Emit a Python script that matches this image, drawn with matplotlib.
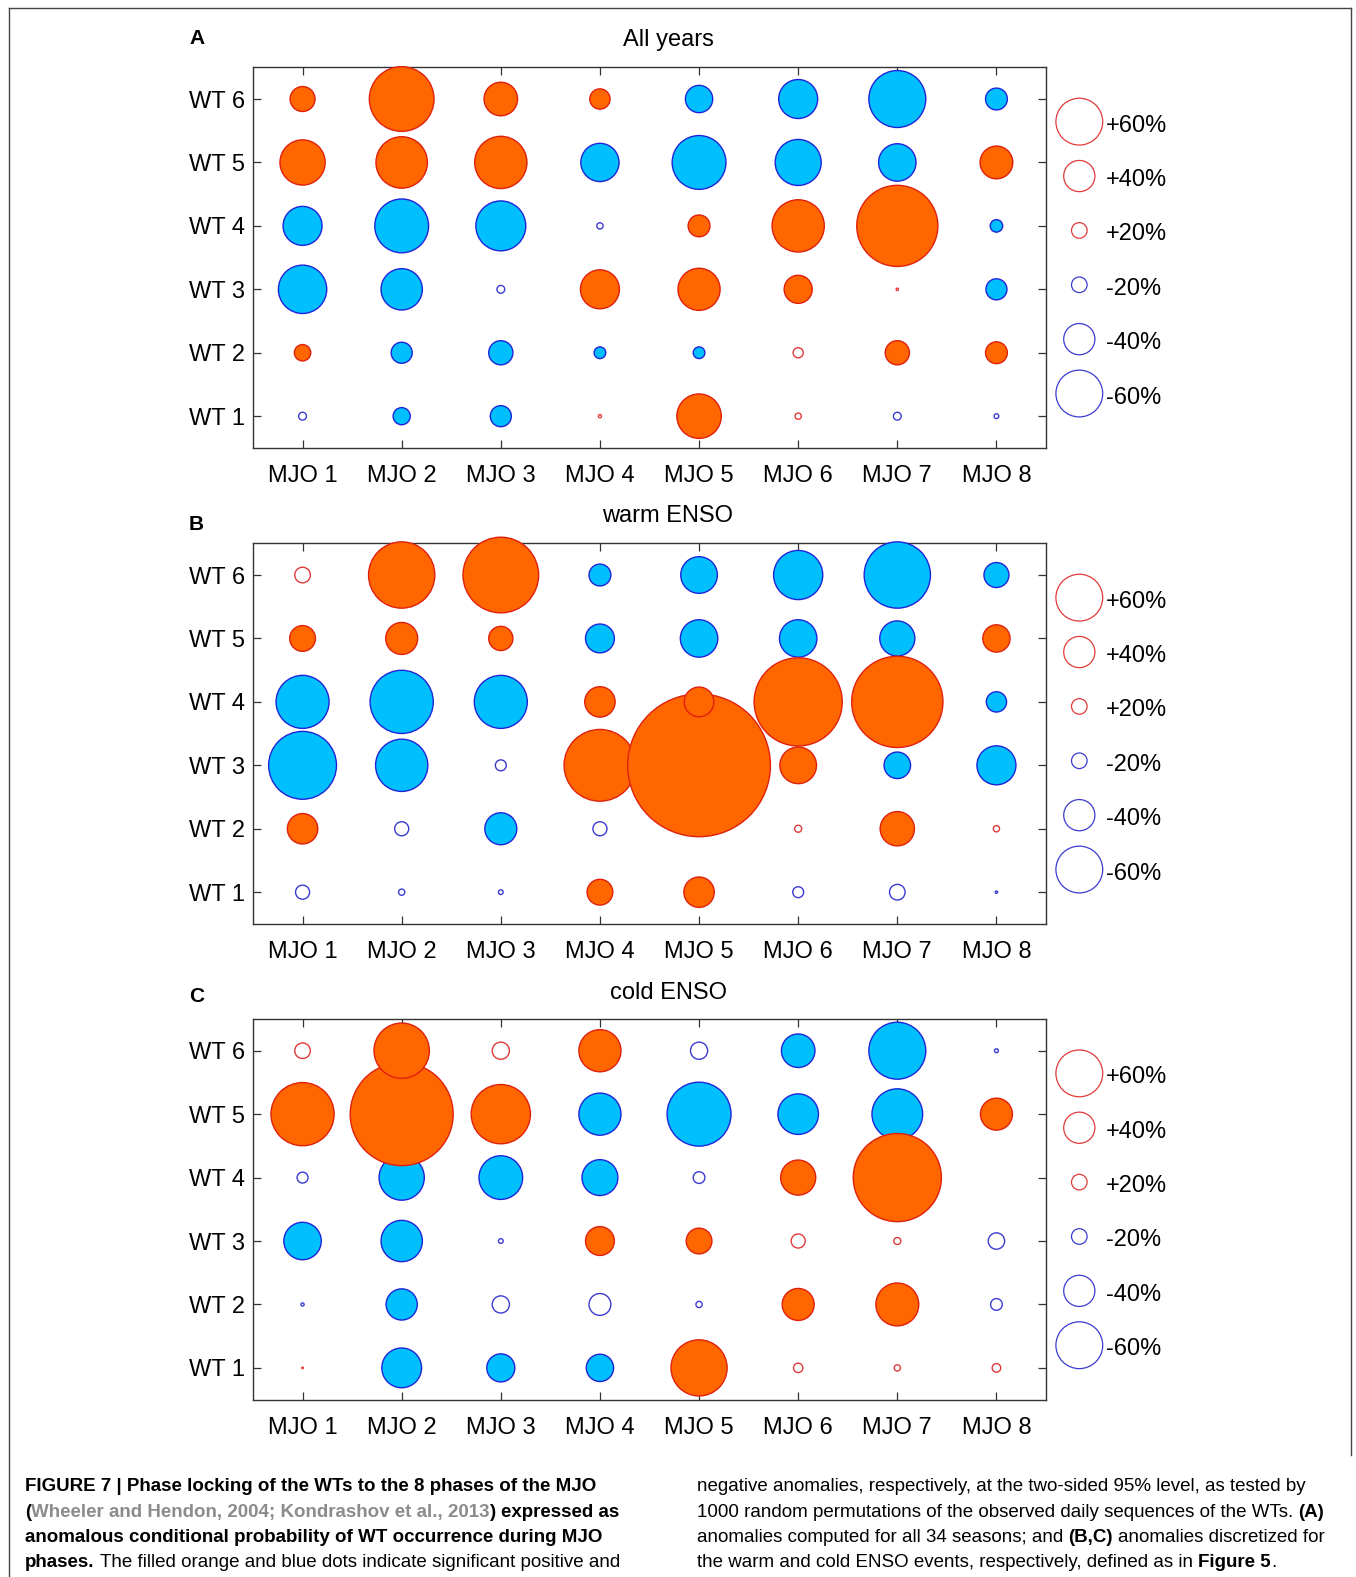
import matplotlib
matplotlib.use('Agg')
import matplotlib.pyplot as plt
from matplotlib import font_manager
from matplotlib.colors import to_rgba
from matplotlib.lines import Line2D

W, H = 1356, 1577

# ---------------- data ----------------
mjo_labels = ['MJO 1', 'MJO 2', 'MJO 3', 'MJO 4', 'MJO 5', 'MJO 6', 'MJO 7', 'MJO 8']
wt_labels = ['WT 1', 'WT 2', 'WT 3', 'WT 4', 'WT 5', 'WT 6']
legend_values = [60, 40, 20, -20, -40, -60]
panel_letters = ['A', 'B', 'C']
panel_titles = ['All years', 'warm ENSO', 'cold ENSO']

# anomalies in %, rows WT1..WT6, columns MJO1..MJO8
all_years = [
    [-10, -22, -27, 4, 57, 8, -10, -6],
    [21, -27, -31, -15, -15, 13, 31, 28],
    [-62, -53, -10, 50, 54, 36, 3, -27],
    [-50, -69, -64, -8, 28, 67, 104, -16],
    [58, 66, 67, -49, -69, -59, -48, 42],
    [32, 83, 43, 26, -35, -50, -73, -28],
]
all_years_sig = [
    [0, 1, 1, 0, 1, 0, 0, 0],
    [1, 1, 1, 1, 1, 0, 1, 1],
    [1, 1, 0, 1, 1, 1, 0, 1],
    [1, 1, 1, 0, 1, 1, 1, 1],
    [1, 1, 1, 1, 1, 1, 1, 1],
    [1, 1, 1, 1, 1, 1, 1, 1],
]
warm_enso = [
    [-18, -8, -6, 33, 39, -14, -20, -3],
    [39, -18, -41, -18, -15, 9, 44, 8],
    [-87, -67, -14, 92, 183, 47, -34, -50],
    [-68, -81, -68, 39, 38, 113, 117, -26],
    [33, 41, 31, -37, -48, -48, -45, 35],
    [20, 85, 97, -28, -47, -63, -85, -32],
]
warm_enso_sig = [
    [0, 0, 0, 1, 1, 0, 0, 0],
    [1, 0, 1, 0, 0, 0, 1, 0],
    [1, 1, 0, 1, 1, 1, 1, 1],
    [1, 1, 1, 1, 1, 1, 1, 1],
    [1, 1, 1, 1, 1, 1, 1, 1],
    [0, 1, 1, 1, 1, 1, 1, 1],
]
cold_enso = [
    [2, -51, -36, -35, 72, 12, 8, 11],
    [-4, -40, -22, -28, -8, 41, 55, -15],
    [-48, -53, -6, 37, 33, 18, 9, -21],
    [-14, -58, -56, -46, -15, 45, 113, 0],
    [81, 132, 76, -54, -82, -52, -65, 41],
    [20, 71, 22, 54, -22, -43, -73, -5],
]
cold_enso_sig = [
    [0, 1, 1, 1, 1, 0, 0, 0],
    [0, 1, 0, 0, 0, 1, 1, 0],
    [1, 1, 0, 1, 1, 0, 0, 0],
    [0, 1, 1, 1, 0, 1, 1, 0],
    [1, 1, 1, 1, 1, 1, 1, 1],
    [0, 1, 0, 1, 0, 1, 1, 0],
]
panels = [(all_years, all_years_sig), (warm_enso, warm_enso_sig), (cold_enso, cold_enso_sig)]

# ---------------- style ----------------
plt.rcParams['font.family'] = ['Liberation Sans', 'DejaVu Sans']
POS_FILL, POS_EDGE = '#FF6600', '#E0200E'
NEG_FILL, NEG_EDGE = '#00BFFF', '#1F24D8'
POS_LINE, NEG_LINE = '#E03A3A', '#3B3BD0'
PX_PER_PCT = 0.39  # radius in pixels per percent


def msize(v):
    d_pt = 2 * PX_PER_PCT * abs(v) * 0.72
    return d_pt ** 2


fig = plt.figure(figsize=(W / 100, H / 100), dpi=100)

ax_left, ax_right = 253, 1046
ax_tops = [67.3, 543.3, 1019.0]
ax_h = 380.6
title_y = [40, 516, 993]
letter_y = [39, 524, 997]

for p, ((vals, sig), letter, title, top) in enumerate(zip(panels, panel_letters, panel_titles, ax_tops)):
    ax = fig.add_axes([ax_left / W, 1 - (top + ax_h) / H, (ax_right - ax_left) / W, ax_h / H])
    pts = []
    for i in range(6):
        for j in range(8):
            v = vals[i][j]
            if v == 0:
                continue
            pts.append((v > 0, i, j, v, sig[i][j]))
    pts.sort(key=lambda t: (t[0], t[1]))
    xs, ys, ss, fcs, ecs = [], [], [], [], []
    for pos, i, j, v, s in pts:
        xs.append(j + 1)
        ys.append(i + 1)
        ss.append(msize(v))
        if s:
            fcs.append(to_rgba(POS_FILL if pos else NEG_FILL))
            ecs.append(to_rgba(POS_EDGE if pos else NEG_EDGE))
        else:
            fcs.append((1, 1, 1, 0))
            ecs.append(to_rgba(POS_LINE if pos else NEG_LINE))
    ax.scatter(xs, ys, s=ss, facecolors=fcs, edgecolors=ecs, linewidths=1.0,
               clip_on=False, zorder=3)
    ax.set_xlim(0.5, 8.5)
    ax.set_ylim(0.5, 6.5)
    ax.set_xticks(range(1, 9))
    ax.set_xticklabels(mjo_labels)
    ax.set_yticks(range(1, 7))
    ax.set_yticklabels(wt_labels)
    ax.tick_params(direction='in', length=5.8, width=0.9, top=True, right=True,
                   labelsize=17, color='#333333', labelcolor='black')
    ax.tick_params(axis='x', pad=12.5)
    ax.tick_params(axis='y', pad=5.8)
    for sp in ax.spines.values():
        sp.set_color('#333333')
        sp.set_linewidth(1.0)

    # legend
    for k, v in enumerate(legend_values):
        yf = (6 - k) / 7
        ax.scatter([1.042], [yf], s=msize(v), transform=ax.transAxes,
                   facecolors='none', edgecolors=POS_LINE if v > 0 else NEG_LINE,
                   linewidths=0.9, clip_on=False)
        ax.text(1.0757, yf - 4 / ax_h, f'{v:+d}%', transform=ax.transAxes,
                ha='left', va='center', fontsize=17)

    fig.text(668 / W, 1 - title_y[p] / H, title, ha='center', va='center', fontsize=17)
    fig.text(189 / W, 1 - letter_y[p] / H, letter, ha='left', va='center',
             fontsize=15, fontweight='bold')

# frame
fig.add_artist(Line2D([9 / W, 1351 / W], [1 - 8 / H, 1 - 8 / H], transform=fig.transFigure,
                      color='#444444', lw=1.0))
fig.add_artist(Line2D([9 / W, 9 / W], [1 - 8 / H, 0], transform=fig.transFigure,
                      color='#444444', lw=1.0))
fig.add_artist(Line2D([1351 / W, 1351 / W], [1 - 8 / H, 1 - 1455 / H], transform=fig.transFigure,
                      color='#444444', lw=1.0))

# ---------------- caption ----------------
names = {f.name for f in font_manager.fontManager.ttflist}
cap_family = ['Liberation Sans Narrow', 'Liberation Sans'] if 'Liberation Sans Narrow' in names \
    else ['Liberation Sans']
renderer = fig.canvas.get_renderer()
GREY = '#8C8C8C'


def text_width(s, size, weight):
    t = fig.text(0, 0, s, fontsize=size, fontweight=weight, family=cap_family)
    w = t.get_window_extent(renderer).width
    t.remove()
    return w


left_lines = [
    [(False, 'FIGURE 7 | Phase locking of the WTs to the 8 phases of the MJO', 'bold', 'black')],
    [(False, '(', 'bold', 'black'),
     (False, 'Wheeler and Hendon, 2004; Kondrashov et al., 2013', 'bold', GREY),
     (False, ')', 'bold', 'black'), (True, 'expressed as', 'bold', 'black')],
    [(False, 'anomalous conditional probability of WT occurrence during MJO', 'bold', 'black')],
    [(False, 'phases.', 'bold', 'black'),
     (True, 'The filled orange and blue dots indicate significant positive and', 'normal', 'black')],
]
right_lines = [
    [(False, 'negative anomalies, respectively, at the two-sided 95% level, as tested by', 'normal', 'black')],
    [(False, '1000 random permutations of the observed daily sequences of the WTs.', 'normal', 'black'),
     (True, '(A)', 'bold', 'black')],
    [(False, 'anomalies computed for all 34 seasons; and', 'normal', 'black'),
     (True, '(B,C)', 'bold', 'black'), (True, 'anomalies discretized for', 'normal', 'black')],
    [(False, 'the warm and cold ENSO events, respectively, defined as in', 'normal', 'black'),
     (True, 'Figure 5', 'bold', 'black'), (False, '.', 'normal', 'black')],
]

base = 12
s1 = base * 569 / text_width(left_lines[0][0][1], base, 'bold')
s2 = base * 611 / text_width(right_lines[0][0][1], base, 'normal')
cap_size = min(s1, s2)

line_baselines = [1491, 1517, 1542, 1567]


def draw_lines(x0, lines):
    for lines_i, runs in enumerate(lines):
        x = x0
        yb = 1 - line_baselines[lines_i] / H
        for space_before, s, weight, color in runs:
            if space_before:
                x += text_width('a a', cap_size, weight) - text_width('aa', cap_size, weight)
            t = fig.text(x / W, yb, s, fontsize=cap_size, fontweight=weight, color=color,
                         family=cap_family, ha='left', va='baseline')
            x += t.get_window_extent(renderer).width


draw_lines(25, left_lines)
draw_lines(697, right_lines)

fig.savefig('out.png', dpi=100)
